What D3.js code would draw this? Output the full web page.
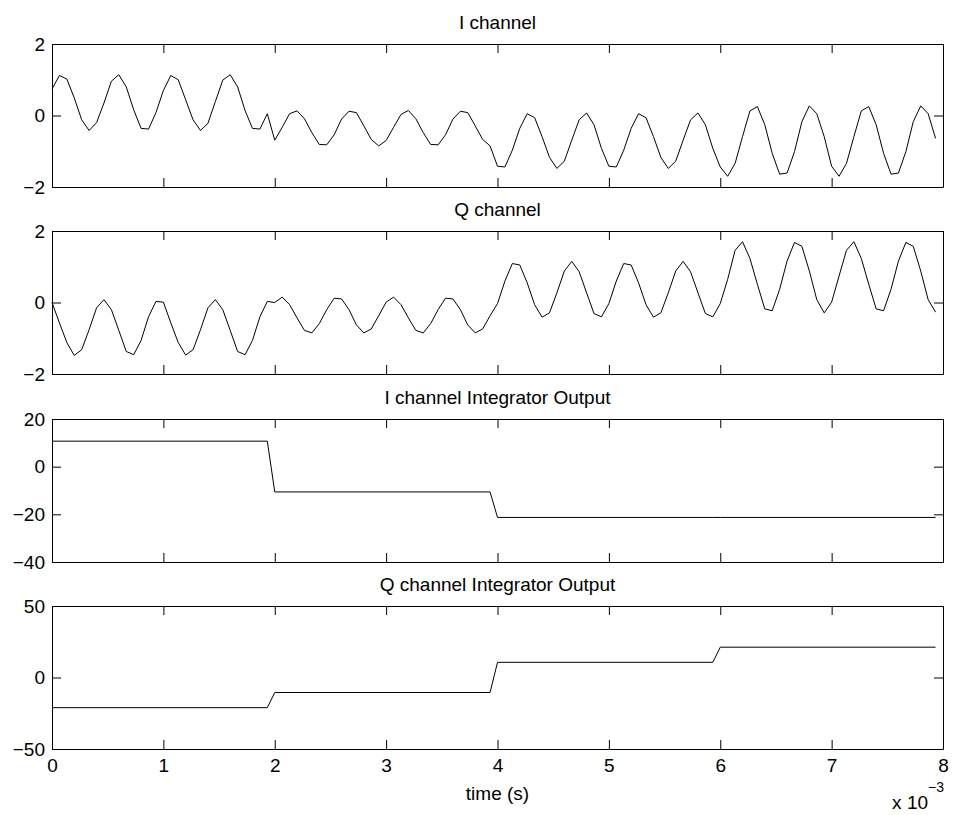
<!DOCTYPE html>
<html>
<head>
<meta charset="utf-8">
<script src="https://cdn.jsdelivr.net/npm/d3@7"></script>
<style>
  html, body { margin: 0; padding: 0; background: #fff; }
  svg { display: block; font-family: "Liberation Sans", Arial, Helvetica, sans-serif; }
</style>
</head>
<body>
<svg id="chart" width="954" height="815"></svg>
<script>
// sampled signals, 15 samples per ms, 0 .. 7.933 ms
const iChannel = [
  0.74, 1.12, 1.02, 0.49, -0.12, -0.42, -0.20, 0.35, 0.96, 1.14, 0.80, 0.16, -0.36, -0.38, 0.08,
  0.70, 1.12, 1.00, 0.44, -0.12, -0.42, -0.22, 0.39, 0.99, 1.14, 0.80, 0.14, -0.36, -0.38, 0.05,
  -0.69, -0.33, 0.05, 0.13, -0.09, -0.48, -0.81, -0.82, -0.54, -0.10, 0.12, 0.08, -0.29, -0.67, -0.85,
  -0.70, -0.33, 0.03, 0.14, -0.09, -0.48, -0.81, -0.82, -0.54, -0.10, 0.12, 0.08, -0.29, -0.67, -0.85,
  -1.42, -1.44, -0.97, -0.36, 0.05, -0.06, -0.59, -1.17, -1.48, -1.28, -0.69, -0.12, 0.07, -0.26, -0.92,
  -1.42, -1.44, -0.97, -0.36, 0.05, -0.06, -0.59, -1.17, -1.48, -1.28, -0.69, -0.12, 0.07, -0.26, -0.92,
  -1.44, -1.70, -1.34, -0.59, 0.13, 0.25, -0.26, -1.06, -1.64, -1.61, -1.01, -0.17, 0.27, 0.05, -0.59,
  -1.42, -1.70, -1.34, -0.59, 0.13, 0.25, -0.26, -1.06, -1.64, -1.61, -1.01, -0.17, 0.27, 0.05, -0.64
];

const qChannel = [
  0.00, -0.57, -1.12, -1.48, -1.32, -0.76, -0.15, 0.08, -0.20, -0.78, -1.37, -1.46, -1.06, -0.40, 0.03,
  0.01, -0.57, -1.12, -1.47, -1.32, -0.76, -0.15, 0.08, -0.20, -0.78, -1.37, -1.46, -1.06, -0.40, 0.03,
  0.00, 0.15, -0.06, -0.43, -0.78, -0.85, -0.59, -0.20, 0.12, 0.10, -0.20, -0.63, -0.85, -0.74, -0.37,
  0.01, 0.15, -0.06, -0.43, -0.78, -0.85, -0.59, -0.20, 0.12, 0.10, -0.20, -0.63, -0.85, -0.74, -0.37,
  -0.03, 0.60, 1.09, 1.05, 0.55, -0.06, -0.41, -0.29, 0.27, 0.88, 1.15, 0.86, 0.27, -0.31, -0.40,
  -0.03, 0.60, 1.09, 1.05, 0.55, -0.06, -0.41, -0.29, 0.27, 0.88, 1.15, 0.86, 0.27, -0.31, -0.40,
  -0.03, 0.65, 1.46, 1.70, 1.23, 0.51, -0.18, -0.23, 0.37, 1.16, 1.68, 1.57, 0.88, 0.08, -0.29,
  0.01, 0.74, 1.46, 1.70, 1.23, 0.51, -0.18, -0.23, 0.37, 1.16, 1.68, 1.57, 0.88, 0.08, -0.27
];

// integrator output held over each 2 ms symbol (30 samples)
const iIntegrator = [10.7, -10.6, -21.3, -21.3];
const qIntegrator = [-21.1, -10.5, 10.6, 21.2];

const titles = ['I channel', 'Q channel', 'I channel Integrator Output', 'Q channel Integrator Output'];
const xTicks = [0, 1, 2, 3, 4, 5, 6, 7, 8];
const yTicks = [[-2, 0, 2], [-2, 0, 2], [-40, -20, 0, 20], [-50, 0, 50]];
const yDomains = [[-2, 2], [-2, 2], [-40, 20], [-50, 50]];

const samplesPerMs = 15;
const samplesPerSymbol = 30;

const left = 52;
const width = 891;
const height = 143;
const tops = [44, 231, 419, 606];
const fontSize = 19;

const svg = d3.select('#chart');
const fmt = d3.format('d');

const x = d3.scaleLinear().domain([0, 8]).range([0, width]);

function samplePoints(values) {
  return values.map((v, k) => [k / samplesPerMs, v]);
}

function stepPoints(levels) {
  const pts = [];
  levels.forEach((v, s) => {
    const t0 = s * samplesPerSymbol / samplesPerMs;
    pts.push([t0, v]);
    pts.push([t0 + (samplesPerSymbol - 1) / samplesPerMs, v]);
  });
  return pts;
}

const series = [
  samplePoints(iChannel),
  samplePoints(qChannel),
  stepPoints(iIntegrator),
  stepPoints(qIntegrator)
];

series.forEach((pts, i) => {
  const y = d3.scaleLinear().domain(yDomains[i]).range([height, 0]);
  const g = svg.append('g').attr('transform', 'translate(' + left + ',' + tops[i] + ')');
  const last = i === series.length - 1;

  g.append('text')
    .attr('x', width / 2)
    .attr('y', -15)
    .attr('text-anchor', 'middle')
    .attr('font-size', fontSize)
    .text(titles[i]);

  const line = d3.line().x(d => x(d[0])).y(d => y(d[1]));
  g.append('path')
    .datum(pts)
    .attr('d', line)
    .attr('fill', 'none')
    .attr('stroke', '#000')
    .attr('stroke-width', 1);

  g.append('g')
    .call(d3.axisLeft(y).tickValues(yTicks[i]).tickFormat(fmt).tickSizeInner(-9).tickSizeOuter(0).tickPadding(7));
  g.append('g')
    .attr('transform', 'translate(' + width + ',0)')
    .call(d3.axisRight(y).tickValues(yTicks[i]).tickSizeInner(-9).tickSizeOuter(0).tickFormat(''));
  g.append('g')
    .call(d3.axisTop(x).tickValues(xTicks).tickSizeInner(-9).tickSizeOuter(0).tickFormat(''));
  const xAxis = d3.axisBottom(x).tickValues(xTicks).tickSizeInner(-9).tickSizeOuter(0).tickPadding(10);
  xAxis.tickFormat(last ? fmt : '');
  g.append('g')
    .attr('transform', 'translate(0,' + height + ')')
    .call(xAxis);

  g.selectAll('.tick text').attr('font-size', fontSize).attr('font-family', null);
  g.selectAll('.domain').attr('stroke', '#000');
  g.selectAll('.tick line').attr('stroke', '#000');

  if (last) {
    g.append('text')
      .attr('x', width / 2)
      .attr('y', height + 51)
      .attr('text-anchor', 'middle')
      .attr('font-size', fontSize)
      .text('time (s)');

    const exp = g.append('text')
      .attr('x', width + 1)
      .attr('y', height + 60)
      .attr('text-anchor', 'end')
      .attr('font-size', fontSize);
    exp.append('tspan').text('x 10');
    exp.append('tspan').attr('dy', -17).attr('font-size', 14).text('\u22123');
  }
});
</script>
</body>
</html>
